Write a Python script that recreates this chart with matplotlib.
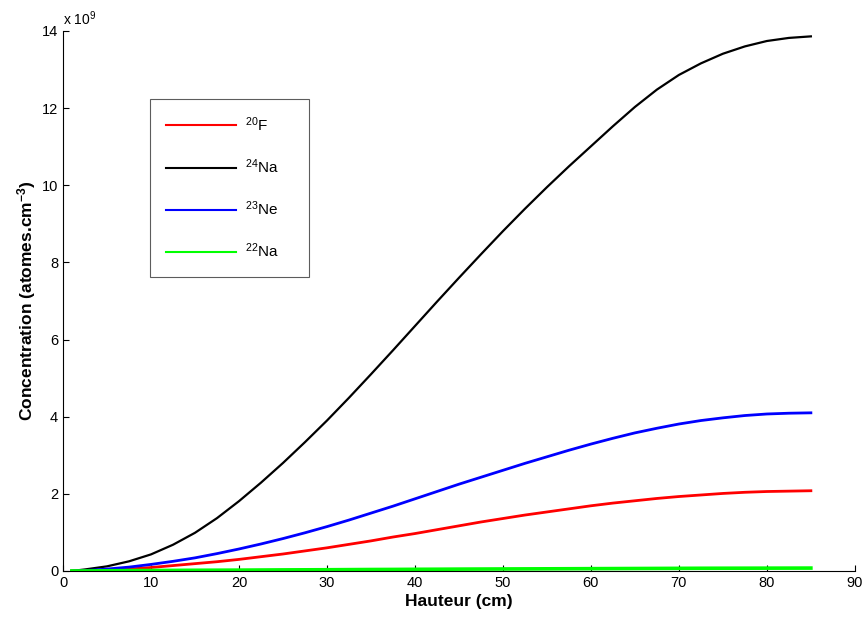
import matplotlib.pyplot as plt

plt.rcParams['font.family'] = ['Liberation Sans', 'DejaVu Sans']
plt.rcParams['mathtext.default'] = 'regular'

# hauteur (cm) et concentrations (x 1e9 atomes/cm3)
hauteur = [1, 2.5, 5, 7.5, 10, 12.5, 15, 17.5, 20, 22.5, 25, 27.5, 30, 32.5, 35, 37.5,
           40, 42.5, 45, 47.5, 50, 52.5, 55, 57.5, 60, 62.5, 65, 67.5, 70, 72.5, 75,
           77.5, 80, 82.5, 85]

f20 = [0.0, 0.0, 0.02, 0.05, 0.09, 0.14, 0.19, 0.24, 0.30, 0.37, 0.44, 0.52, 0.60, 0.69,
       0.78, 0.88, 0.97, 1.07, 1.17, 1.27, 1.36, 1.45, 1.53, 1.61, 1.69, 1.76, 1.82,
       1.88, 1.93, 1.97, 2.01, 2.04, 2.06, 2.07, 2.08]

na24 = [0.0, 0.04, 0.12, 0.25, 0.43, 0.68, 0.99, 1.37, 1.81, 2.29, 2.80, 3.34, 3.90,
        4.49, 5.10, 5.72, 6.35, 6.98, 7.60, 8.21, 8.81, 9.39, 9.95, 10.49, 11.01, 11.53,
        12.03, 12.48, 12.86, 13.16, 13.41, 13.60, 13.74, 13.82, 13.86]

ne23 = [0.0, 0.01, 0.05, 0.10, 0.17, 0.25, 0.34, 0.45, 0.57, 0.70, 0.84, 0.99, 1.15, 1.32,
        1.50, 1.68, 1.87, 2.06, 2.25, 2.43, 2.61, 2.79, 2.96, 3.13, 3.29, 3.44, 3.58,
        3.70, 3.81, 3.90, 3.97, 4.03, 4.07, 4.09, 4.10]

na22 = [0.0, 0.0, 0.005, 0.01, 0.012, 0.015, 0.018, 0.02, 0.022, 0.025, 0.028, 0.03,
        0.032, 0.035, 0.038, 0.04, 0.043, 0.045, 0.048, 0.05, 0.052, 0.054, 0.056,
        0.058, 0.06, 0.062, 0.064, 0.066, 0.068, 0.07, 0.071, 0.072, 0.073, 0.074, 0.075]

fig = plt.figure(figsize=(8.67, 6.17), dpi=100)
ax = fig.add_axes([0.0727, 0.0746, 0.9133, 0.8752])

l1, = ax.plot(hauteur, f20, color='#ff0000', lw=2, label='$^{20}$F')
l2, = ax.plot(hauteur, na24, color='black', lw=1.6, label='$^{24}$Na')
l3, = ax.plot(hauteur, ne23, color='#0000ff', lw=2, label='$^{23}$Ne')
l4, = ax.plot(hauteur, na22, color='#00ff00', lw=2.6, label='$^{22}$Na')

ax.set_xlim(0, 90)
ax.set_ylim(0, 14)
ax.set_xticks(range(0, 91, 10))
ax.set_yticks(range(0, 15, 2))
ax.spines['top'].set_visible(False)
ax.spines['right'].set_visible(False)
ax.tick_params(direction='in', length=4, labelsize=10.5, colors='black')
for sp in ax.spines.values():
    sp.set_linewidth(0.8)

ax.set_xlabel('Hauteur (cm)', fontsize=12.5, fontweight='bold', labelpad=3)
ax.set_ylabel('Concentration (atomes.cm$^{-3}$)', fontsize=12.5, fontweight='bold', labelpad=3)
ax.text(0.0, 1.005, 'x 10$^{9}$', transform=ax.transAxes, fontsize=10, va='bottom', ha='left')

# legende large, alignee a gauche dans son cadre
leg = ax.legend(handles=[l1, l2, l3, l4], loc='upper left',
                bbox_to_anchor=(0.1098, 0.5444, 0.2008, 0.3296), mode='expand',
                fontsize=11, frameon=True, fancybox=False, edgecolor='#333333',
                handlelength=4.6, handletextpad=0.55, labelspacing=1.55, borderpad=1.05,
                borderaxespad=0)
leg.get_frame().set_linewidth(0.8)
for h in leg.get_lines():
    h.set_linewidth(1.5)

fig.savefig('out.png', dpi=100)
